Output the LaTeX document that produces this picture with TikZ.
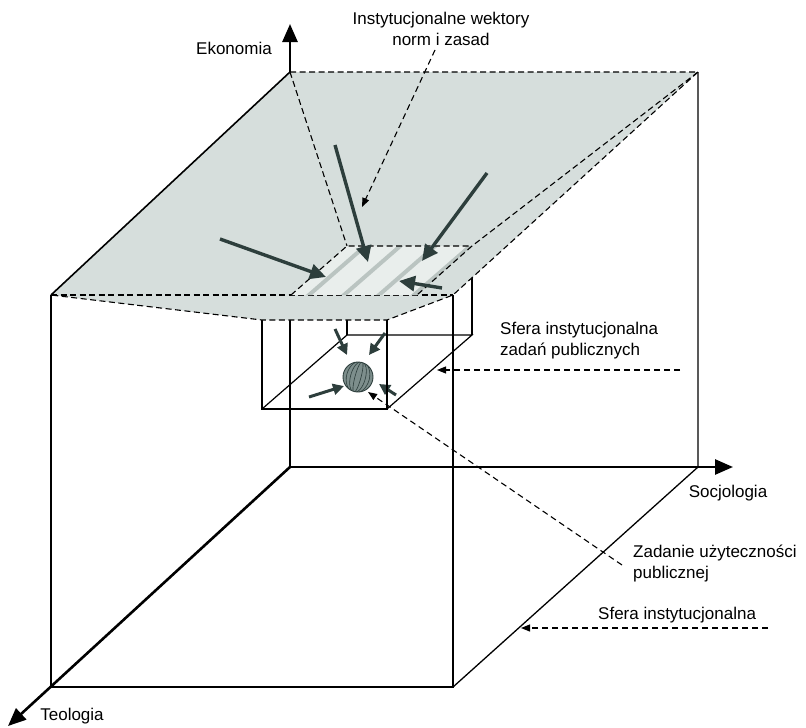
\documentclass[tikz,border=0pt]{standalone}
\usepackage{fontspec}
\setmainfont{Liberation Sans}
\usetikzlibrary{arrows.meta}
\definecolor{plane}{RGB}{214,222,220}
\definecolor{patch}{RGB}{233,238,236}
\definecolor{stripe}{RGB}{186,196,193}
\definecolor{vec}{RGB}{45,62,60}
\definecolor{ball}{RGB}{125,142,140}
\begin{document}
\begin{tikzpicture}[x=1pt,y=-1pt,
  edge/.style={line width=1.3pt, black},
  axis/.style={line width=2.6pt, black, -{Triangle[length=18pt,width=15pt]}},
  hidden/.style={line width=1.1pt, black, dash pattern=on 6pt off 3.5pt},
  vector/.style={line width=3.4pt, vec, -{Triangle[length=16pt,width=15pt]}},
  smallvec/.style={line width=3pt, vec, -{Triangle[length=11pt,width=11pt]}},
  pointer/.style={line width=1.1pt, black, dash pattern=on 6pt off 4pt, -{Triangle[length=9pt,width=7pt]}},
  lbl/.style={font=\fontsize{17}{21}\selectfont, inner sep=0pt},
]
\useasboundingbox (0,0) rectangle (806,728);

% big cube corners
\coordinate (A) at (51,295);   % front top left
\coordinate (B) at (453,295);  % front top right
\coordinate (C) at (453,687);  % front bottom right
\coordinate (D) at (51,687);   % front bottom left
\coordinate (E) at (290,72);   % back top left
\coordinate (F) at (698,72);   % back top right
\coordinate (G) at (698,467);  % back bottom right
\coordinate (O) at (290,467);  % origin of the axes

% small box corners
\coordinate (p1) at (262,320);
\coordinate (p2) at (387,320);
\coordinate (p3) at (387,409);
\coordinate (p4) at (262,409);
\coordinate (q1) at (347,246);
\coordinate (q2) at (472,246);
\coordinate (q3) at (472,335);
\coordinate (q4) at (347,335);
\coordinate (h1) at (291,295);
\coordinate (h2) at (417,295);

% axes
\coordinate (ekoTip) at (290,24);
\coordinate (socTip) at (733,467);
\coordinate (teoTip) at (8,726);
\draw[axis] (O) -- (ekoTip);
\draw[axis] (O) -- (socTip);
\draw[axis] (O) -- (teoTip);

% cube edges
\draw[edge] (A) -- (D) -- (C) -- (B);
\draw[edge] (C) -- (G) -- (F);

% small box edges
\draw[edge, line width=1.2pt] (p1) -- (p4) -- (p3) -- (p2);
\draw[edge, line width=1.2pt] (p4) -- (q4) -- (q3) -- (p3);
\draw[edge, line width=1.2pt] (q4) -- (q1);
\draw[edge, line width=1.2pt] (q3) -- (q2);

% shaded plane
\fill[plane] (E) -- (F) -- (B) -- (p2) -- (p1) -- (A) -- cycle;
\draw[hidden] (E) -- (F) -- (B) -- (p2) -- (p1) -- (A);
\draw[hidden] (A) -- (B);
\draw[line width=1.6pt] (A) -- (E);

% striped top of the small box
\begin{scope}
  \clip (q1) -- (q2) -- (h2) -- (h1) -- cycle;
  \fill[patch] (q1) -- (q2) -- (h2) -- (h1) -- cycle;
  \foreach \x in {309,344,379,414}
    \draw[stripe, line width=4pt] (\x,295) ++(-40,34.8) -- ++(160,-139.3);
\end{scope}
\draw[hidden] (h1) -- (q1) -- (q2) -- (h2);
\draw[hidden] (E) -- (q1);
\draw[hidden] (F) -- (q2);

% institutional vectors
\coordinate (v1s) at (220,239); \coordinate (v1e) at (326,277);
\coordinate (v2s) at (335,145); \coordinate (v2e) at (368,262);
\coordinate (v3s) at (487,173); \coordinate (v3e) at (422,261);
\coordinate (v4s) at (442,288); \coordinate (v4e) at (399,281);
\draw[vector] (v1s) -- (v1e);
\draw[vector] (v2s) -- (v2e);
\draw[vector] (v3s) -- (v3e);
\draw[vector] (v4s) -- (v4e);

% the public task
\coordinate (S) at (358,377);
\fill[ball] (S) circle (15);
\begin{scope}
  \clip (S) circle (15);
  \foreach \r in {3,7.5,11.5}
    \draw[vec, line width=0.6pt, rotate around={-15:(S)}] (S) ellipse ({\r} and 16);
\end{scope}
\draw[vec, line width=0.9pt] (S) circle (15);

\coordinate (s1s) at (335,329); \coordinate (s1e) at (347,355);
\coordinate (s2s) at (385,333); \coordinate (s2e) at (369,355);
\coordinate (s3s) at (309,397); \coordinate (s3e) at (344,386);
\coordinate (s4s) at (396,395); \coordinate (s4e) at (379,384);
\draw[smallvec] (s1s) -- (s1e);
\draw[smallvec] (s2s) -- (s2e);
\draw[smallvec] (s3s) -- (s3e);
\draw[smallvec] (s4s) -- (s4e);
\draw[edge, line width=1.2pt] (p2) -- (p3);

% labels
\node[lbl] (eko) at (234,48) {Ekonomia};
\node[lbl] (soc) at (728,493) {Socjologia};
\node[lbl] (teo) at (72,716) {Teologia};
\node[lbl, align=center] (wekt) at (441,29) {Instytucjonalne wektory\\norm i zasad};
\node[lbl, align=left, anchor=west] (sfz) at (500,341) {Sfera instytucjonalna\\zadań publicznych};
\node[lbl, align=left, anchor=west] (zad) at (633,563) {Zadanie użyteczności\\publicznej};
\node[lbl, anchor=west] (sf) at (598,615) {Sfera instytucjonalna};

% pointers
\coordinate (w1) at (435,50);   \coordinate (w2) at (362,207);
\coordinate (z1) at (680,370);  \coordinate (z2) at (437,370);
\coordinate (u1) at (622,565);  \coordinate (u2) at (368,392);
\coordinate (f1) at (768,628);  \coordinate (f2) at (521,628);
\draw[pointer] (w1) -- (w2);
\draw[pointer] (z1) -- (z2);
\draw[pointer] (u1) -- (u2);
\draw[pointer] (f1) -- (f2);
\end{tikzpicture}
\end{document}
